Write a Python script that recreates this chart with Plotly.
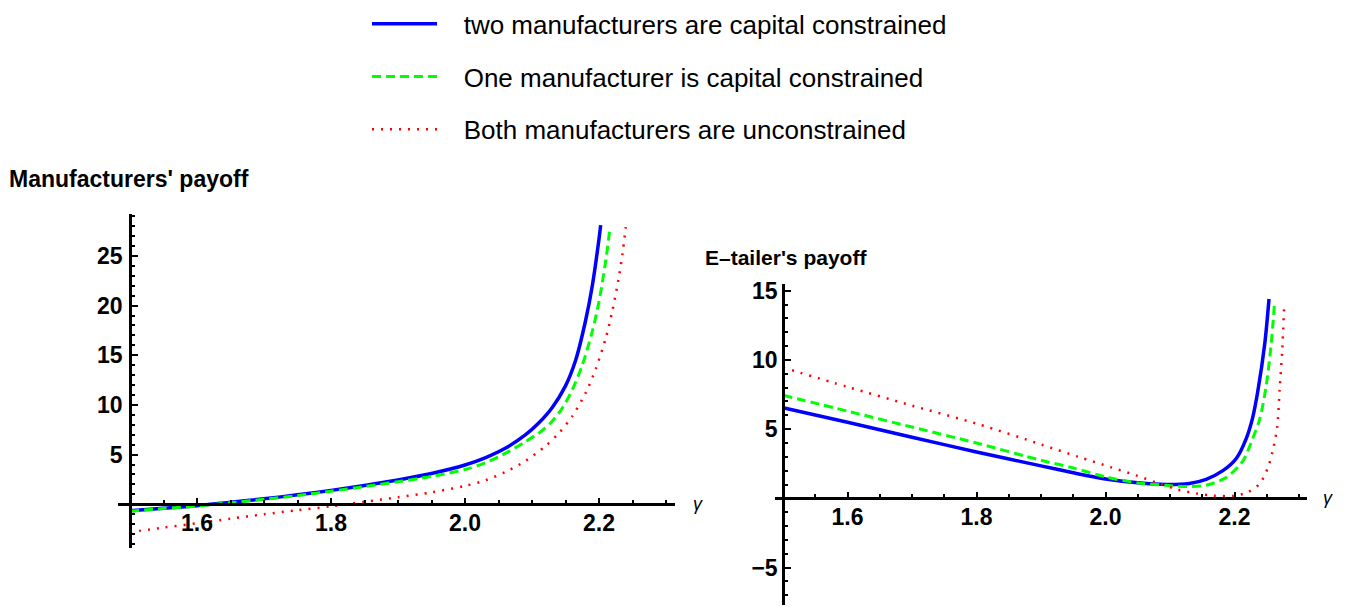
import plotly.graph_objects as go

# ---- data -------------------------------------------------------------
# Manufacturers' payoff vs gamma
gamma_m_two = [1.5, 1.55, 1.6, 1.65, 1.7, 1.75, 1.8, 1.85, 1.9, 1.95, 2.0, 2.03,
               2.06, 2.09, 2.11, 2.13, 2.15, 2.165, 2.18, 2.19, 2.2, 2.2025]
m_two = [-0.66, -0.4, -0.15, 0.2, 0.55, 0.95, 1.4, 1.9, 2.45, 3.1, 3.95, 4.67,
         5.63, 6.98, 8.18, 9.72, 11.92, 14.47, 18.5, 22.0, 26.7, 28.1]

gamma_m_one = [1.5, 1.55, 1.6, 1.65, 1.7, 1.75, 1.8, 1.85, 1.9, 1.95, 2.0, 2.03,
               2.06, 2.09, 2.115, 2.13, 2.145, 2.16, 2.175, 2.19, 2.2, 2.21, 2.216]
m_one = [-0.7, -0.43, -0.18, 0.15, 0.5, 0.88, 1.32, 1.78, 2.27, 2.8, 3.5, 4.16,
         5.12, 6.3, 7.4, 8.35, 9.65, 11.5, 14.0, 17.4, 20.4, 24.5, 27.6]

gamma_m_none = [1.5, 1.55, 1.6, 1.65, 1.7, 1.75, 1.8, 1.85, 1.9, 1.95, 2.0, 2.03,
                2.06, 2.09, 2.12, 2.14, 2.16, 2.18, 2.195, 2.21, 2.22, 2.23, 2.235, 2.24]
m_none = [-2.8, -2.35, -1.9, -1.45, -1.0, -0.6, -0.2, 0.25, 0.7, 1.2, 1.85, 2.4,
          3.25, 4.35, 5.85, 7.15, 8.85, 11.2, 13.6, 16.7, 19.5, 23.0, 25.2, 27.9]

# E-tailer's payoff vs gamma
gamma_e_two = [1.5, 1.6, 1.7, 1.8, 1.9, 1.95, 2.0, 2.05, 2.094, 2.13, 2.156, 2.182,
               2.203, 2.218, 2.228, 2.236, 2.247, 2.2535]
e_two = [6.55, 5.5, 4.42, 3.35, 2.35, 1.85, 1.4, 1.12, 1.0, 1.08, 1.38, 2.0,
         2.9, 4.3, 5.8, 7.7, 11.2, 14.4]

gamma_e_one = [1.5, 1.6, 1.7, 1.8, 1.9, 1.95, 2.0, 2.05, 2.094, 2.125, 2.156, 2.187,
               2.213, 2.228, 2.239, 2.249, 2.257, 2.262]
e_one = [7.45, 6.3, 5.15, 4.0, 2.75, 2.2, 1.55, 1.12, 0.94, 0.85, 0.95, 1.5,
         2.7, 4.3, 5.7, 8.1, 11.2, 14.1]

gamma_e_none = [1.5, 1.6, 1.7, 1.8, 1.9, 1.958, 2.009, 2.048, 2.084, 2.112, 2.141,
                2.167, 2.198, 2.221, 2.239, 2.252, 2.259, 2.266, 2.27, 2.274, 2.277]
e_none = [9.45, 8.05, 6.7, 5.4, 3.9, 3.0, 2.24, 1.65, 1.06, 0.64, 0.35,
          0.2, 0.18, 0.45, 1.06, 2.24, 3.4, 5.07, 7.9, 10.7, 13.9]

series_names = ["two manufacturers are capital constrained",
                "One manufacturer is capital constrained",
                "Both manufacturers are unconstrained"]

x_tickvals = [1.6, 1.8, 2.0, 2.2]
x_ticktext = ["1.6", "1.8", "2.0", "2.2"]
m_tickvals = [5, 10, 15, 20, 25]
e_tickvals = [-5, 5, 10, 15]
e_ticktext = ["\u22125", "5", "10", "15"]

# ---- styling ----------------------------------------------------------
W, H = 1346, 607
FONT = "Liberation Sans, Arial, sans-serif"
styles = [
    dict(color="#0000ff", width=3.5, dash="solid"),
    dict(color="#00ff00", width=3.0, dash="9px,5px"),
    dict(color="#ff0000", width=2.5, dash="2px,7px"),
]


def px_x(p):
    return p / W


def px_y(p):
    return 1 - p / H


# plot boxes (paper fractions) and data ranges
m_xdom = [px_x(118), px_x(675)]
m_xrange = [1.5 - 12 / 670, 1.5 + 545 / 670]
m_ydom = [px_y(547), px_y(205)]
m_yrange = [-4.43, 29.26]

e_xdom = [px_x(775), px_x(1307)]
e_xrange = [1.5 - 8 / 645, 1.5 + 524 / 645]
e_ydom = [px_y(605), px_y(277)]
e_yrange = [(496 - 605) / 14.15, (496 - 277) / 14.15]


def cross(dom, rng, v):
    return dom[0] + (v - rng[0]) / (rng[1] - rng[0]) * (dom[1] - dom[0])


fig = go.Figure()

left = [(gamma_m_two, m_two), (gamma_m_one, m_one), (gamma_m_none, m_none)]
right = [(gamma_e_two, e_two), (gamma_e_one, e_one), (gamma_e_none, e_none)]

pad = "\u00a0\u00a0\u00a0"
for i, (gx, gy) in enumerate(left):
    fig.add_trace(go.Scatter(x=gx, y=gy, mode="lines", name=pad + series_names[i],
                             line=dict(shape="spline", smoothing=0.8, **styles[i]),
                             legendgroup=f"g{i}", xaxis="x", yaxis="y"))
for i, (gx, gy) in enumerate(right):
    fig.add_trace(go.Scatter(x=gx, y=gy, mode="lines", name=pad + series_names[i],
                             line=dict(shape="spline", smoothing=0.8, **styles[i]),
                             legendgroup=f"g{i}", showlegend=False,
                             xaxis="x2", yaxis="y2"))

tickfont = dict(family=FONT, size=23, color="black", weight="bold")
common = dict(showgrid=False, zeroline=False, showline=True, linecolor="black",
              linewidth=2.5, ticks="inside", tickcolor="black", tickwidth=2,
              ticklen=6, tickfont=tickfont, anchor="free", fixedrange=True)
xminor = dict(tickmode="linear", tick0=1.5, dtick=0.05, ticks="inside",
              ticklen=3.5, tickwidth=2, tickcolor="black")
yminor = dict(tickmode="linear", tick0=0, dtick=1, ticks="inside",
              ticklen=3.5, tickwidth=2, tickcolor="black")

fig.update_layout(
    width=W, height=H,
    margin=dict(l=0, r=0, t=0, b=0),
    paper_bgcolor="white", plot_bgcolor="rgba(0,0,0,0)",
    xaxis=dict(domain=m_xdom, range=m_xrange, tickmode="array",
               tickvals=x_tickvals, ticktext=x_ticktext,
               position=cross(m_ydom, m_yrange, 0), ticklabelstandoff=-3,
               minor=xminor, **common),
    yaxis=dict(domain=m_ydom, range=m_yrange, tickmode="array",
               tickvals=m_tickvals,
               position=cross(m_xdom, m_xrange, 1.5), ticklabelstandoff=2,
               minor=yminor, **common),
    xaxis2=dict(domain=e_xdom, range=e_xrange, tickmode="array",
                tickvals=x_tickvals, ticktext=x_ticktext,
                position=cross(e_ydom, e_yrange, 0), ticklabelstandoff=-3,
                minor=xminor, **common),
    yaxis2=dict(domain=e_ydom, range=e_yrange, tickmode="array",
                tickvals=e_tickvals, ticktext=e_ticktext,
                position=cross(e_xdom, e_xrange, 1.5), ticklabelstandoff=0,
                minor=yminor, **common),
    legend=dict(x=px_x(367), y=1 + 13 / H, xanchor="left", yanchor="top",
                font=dict(family=FONT, size=26, color="black"),
                itemwidth=65, tracegroupgap=16, bgcolor="rgba(0,0,0,0)"),
    showlegend=True,
)

annotations = [
    dict(text="Manufacturers' payoff", x=px_x(7), y=px_y(170),
         font=dict(family=FONT, size=23, color="black", weight="bold")),
    dict(text="E\u2013tailer's payoff", x=px_x(703), y=px_y(250),
         font=dict(family=FONT, size=21, color="black", weight="bold")),
    dict(text="<i>\u03b3</i>", x=px_x(691), y=px_y(502),
         font=dict(family=FONT, size=18, color="black")),
    dict(text="<i>\u03b3</i>", x=px_x(1321), y=px_y(496),
         font=dict(family=FONT, size=18, color="black")),
]
for a in annotations:
    fig.add_annotation(xref="paper", yref="paper", xanchor="left", yanchor="middle",
                       showarrow=False, **a)

fig.write_html("out.html")
